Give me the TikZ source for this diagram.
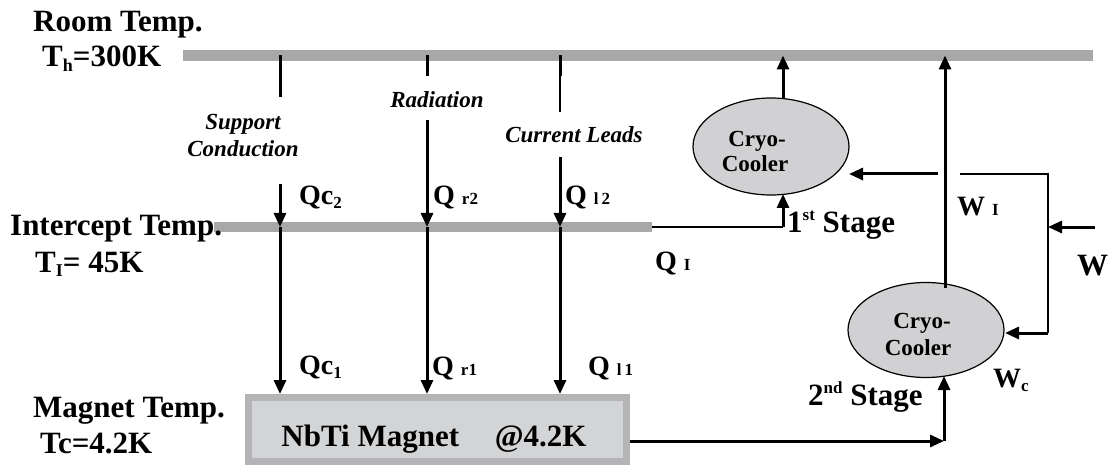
\documentclass[tikz,border=0pt]{standalone}
\usepackage{fontspec}
\setmainfont{Liberation Serif}
\usetikzlibrary{arrows.meta,shapes.geometric}
\definecolor{barg}{RGB}{168,168,168}
\definecolor{ellg}{RGB}{209,209,211}
\definecolor{magb}{RGB}{180,180,182}
\definecolor{magf}{RGB}{211,212,214}
\newcommand\fs[1]{\fontsize{#1}{#1}\selectfont}
\tikzset{
  bar/.style={draw=barg, line width=11pt},
  big/.style={font=\fs{31}\bfseries, inner sep=0pt, anchor=base west},
  qlab/.style={font=\fs{28}\bfseries, inner sep=0pt, anchor=base west},
  ital/.style={font=\fs{23}\bfseries\itshape, inner sep=0pt, anchor=base},
  cctext/.style={font=\fs{23}\bfseries, inner sep=0pt, anchor=base},
  cooler/.style={ellipse, draw=black, line width=1.2pt, fill=ellg, minimum width=156pt, minimum height=97pt, inner sep=0pt},
  magbox/.style={draw=magb, line width=7pt, fill=magf, minimum width=378pt, minimum height=64pt, inner sep=0pt},
  stem/.style={line width=3pt},
  thin/.style={line width=1.8pt},
  arr/.style={line width=3pt, -{Triangle[length=14pt,width=12pt]}},
}
\begin{document}
\begin{tikzpicture}[x=1pt,y=-1pt]
\useasboundingbox[fill=white] (0,0) rectangle (1108,465);
% bars
\coordinate (topL) at (183,55.5);
\coordinate (topR) at (1093,55.5);
\coordinate (midL) at (214,227);
\coordinate (midR) at (652,227);
\draw[bar] (topL) -- (topR);
\draw[bar, line width=10pt] (midL) -- (midR);
% left labels
\node[big] (room) at (33,32) {Room Temp.};
\node[big] (th) at (42,67) {T\raisebox{-5pt}{\fs{18}h}=300K};
\node[big] (inter) at (10,236) {Intercept Temp.};
\node[big] (ti) at (35,272) {T\raisebox{-5pt}{\fs{18}I}= 45K};
\node[big] (magt) at (33,417) {Magnet Temp.};
\node[big] (tc) at (40,453) {Tc=4.2K};
% magnet
\node[magbox] (mag) at (437.5,429.5) {};
\node[font=\fs{31}\bfseries, inner sep=0pt, anchor=base] (magtxt) at (434,446) {NbTi Magnet\hspace{0.9em} @4.2K};
% coolers
\node[cooler] (cc1) at (771,146.5) {};
\node[cctext] (cc1a) at (757,147) {Cryo-};
\node[cctext] (cc1b) at (755,172) {Cooler};
\node[cooler, minimum height=95pt] (cc2) at (926,330) {};
\node[cctext] (cc2a) at (922,328) {Cryo-};
\node[cctext] (cc2b) at (918,355) {Cooler};
% support conduction
\coordinate (s0) at (280,55.5);
\coordinate (s1) at (280,97);
\coordinate (s2) at (280,184);
\coordinate (s3) at (280,227);
\draw[stem] (s0) -- (s1);
\node[ital] (sup1) at (243,130) {Support};
\node[ital] (sup2) at (243,157) {Conduction};
\draw[arr] (s2) -- (s3);
\draw[arr] (s3) -- (s3 |- mag.north);
\node[qlab] (qc2) at (299,205) {Qc\raisebox{-4pt}{\fs{17}2}};
\node[qlab] (qc1) at (299,374) {Qc\raisebox{-4pt}{\fs{17}1}};
% radiation
\coordinate (r0) at (427,55.5);
\coordinate (r1) at (427,76);
\coordinate (r2) at (427,120);
\coordinate (r3) at (427,227);
\draw[stem] (r0) -- (r1);
\node[ital] (rad) at (437,108) {Radiation};
\draw[arr] (r2) -- (r3);
\draw[arr] (r3) -- (r3 |- mag.north);
\node[qlab] (qr2) at (433,205) {Q {\fs{17}r2}};
\node[qlab] (qr1) at (432,375) {Q {\fs{17}r1}};
% current leads
\coordinate (l0) at (560,55.5);
\coordinate (l1) at (560,76);
\coordinate (l2) at (560,112);
\coordinate (l3) at (560,157);
\coordinate (l4) at (560,227);
\draw[stem] (l0) -- (l1);
\draw[thin, line width=1.4pt] (l1) -- (l2);
\node[ital] (cur) at (574,143) {Current Leads};
\draw[arr] (l3) -- (l4);
\draw[arr] (l4) -- (l4 |- mag.north);
\node[qlab] (ql2) at (565,205) {Q {\fs{17}l\,2}};
\node[qlab] (ql1) at (588,375) {Q {\fs{17}l\,1}};
% first stage
\coordinate (qi) at (783,227);
\coordinate (qt) at (783,194);
\coordinate (c1a) at (783,98.5);
\coordinate (c1b) at (783,55.5);
\draw[thin] (midR) -- (qi);
\draw[arr] (qi) -- (qt);
\draw[arr] (c1a) -- (c1b);
\node[qlab] (qI) at (655,270) {Q {\fs{17}I}};
\node[big, font=\fs{31}\bfseries] (st1) at (787,233) {1\raisebox{12pt}{\fs{17}st} Stage};
% W network
\coordinate (w0) at (945,288);
\coordinate (w1) at (945,55.5);
\draw[arr] (w0) -- (w1);
\coordinate (h0) at (938,174);
\coordinate (h1) at (849,174);
\draw[arr] (h0) -- (h1);
\coordinate (k0) at (960,174);
\coordinate (k1) at (1048,174);
\coordinate (k2) at (1048,333);
\coordinate (k3) at (1005,333);
\draw[thin] (k0) -- (k1) -- (k2);
\draw[arr] (k2) -- (k3);
\coordinate (win) at (1095,227);
\coordinate (wj) at (1048,227);
\draw[arr] (win) -- (wj);
\node[qlab] (wI) at (957,215) {W {\fs{17}I}};
\node[qlab, font=\fs{31}\bfseries] (W) at (1077,275) {W};
\node[qlab] (wc) at (993,387) {W\raisebox{-4pt}{\fs{17}c}};
% second stage
\coordinate (m2) at (944,441);
\coordinate (m3) at (944,376);
\draw[arr] (mag.east |- m2) -- (m2);
\draw[arr] (m2) -- (m3);
\node[big, font=\fs{31}\bfseries] (st2) at (808,405) {2\raisebox{12pt}{\fs{17}nd} Stage};
\end{tikzpicture}
\end{document}
